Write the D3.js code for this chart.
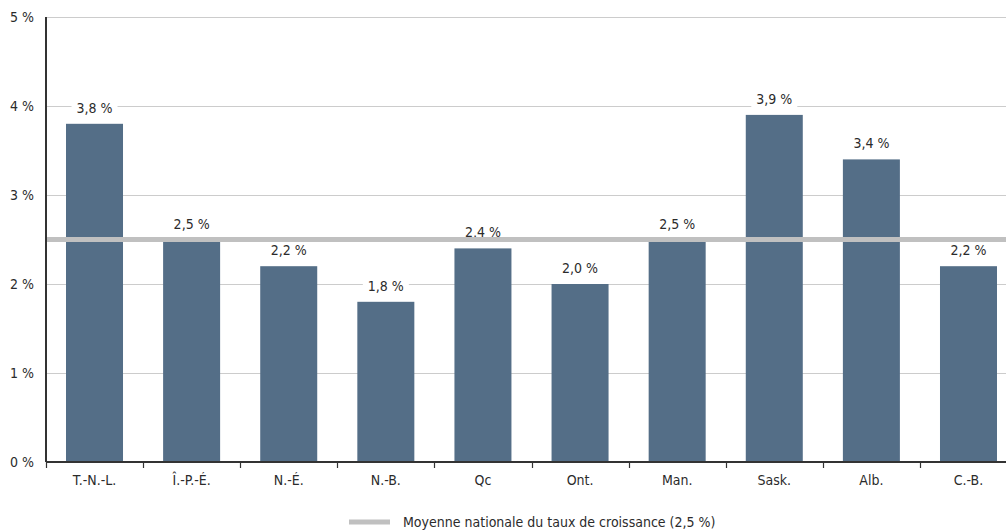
<!DOCTYPE html>
<html>
<head>
<meta charset="utf-8">
<script src="https://cdn.jsdelivr.net/npm/d3@7"></script>
<style>
  html, body { margin: 0; padding: 0; background: #fff; }
  svg { display: block; font-family: "DejaVu Sans Condensed", "Liberation Sans Narrow", "Roboto", sans-serif; }
</style>
</head>
<body>
<svg id="chart" width="1006" height="531"></svg>
<script>
// Provincial growth rates (%)
const provinces = ["T.-N.-L.", "Î.-P.-É.", "N.-É.", "N.-B.", "Qc", "Ont.", "Man.", "Sask.", "Alb.", "C.-B."];
const growth = [3.8, 2.5, 2.2, 1.8, 2.4, 2.0, 2.5, 3.9, 3.4, 2.2];
const nationalAverage = 2.5;
const yTicks = [0, 1, 2, 3, 4, 5];
const legendLabel = "Moyenne nationale du taux de croissance (2,5 %)";

const fmt = v => v.toFixed(1).replace(".", ",") + " %";

const svg = d3.select("#chart");
const W = 1006, H = 531;
const plotLeft = 46, plotTop = 17, baseY = 462;
const bandStep = 97.1;

// The category range runs slightly past the right edge of the page
const x = d3.scaleBand()
  .domain(provinces)
  .range([plotLeft, plotLeft + bandStep * provinces.length])
  .paddingInner(0.413)
  .paddingOuter(0.206);

const y = d3.scaleLinear()
  .domain([0, 5])
  .range([baseY, plotTop]);

const textColor = "#2b2b2b";
const fontSize = 14;

// Horizontal gridlines
svg.append("g")
  .selectAll("line")
  .data(yTicks.filter(d => d > 0))
  .join("line")
  .attr("x1", plotLeft)
  .attr("x2", W)
  .attr("y1", d => Math.round(y(d)) + 0.5)
  .attr("y2", d => Math.round(y(d)) + 0.5)
  .attr("stroke", "#cccccc")
  .attr("stroke-width", 1);

// Y tick labels
svg.append("g")
  .selectAll("text")
  .data(yTicks)
  .join("text")
  .attr("x", 34)
  .attr("y", d => y(d) + 5)
  .attr("text-anchor", "end")
  .attr("font-size", fontSize)
  .attr("fill", textColor)
  .text(d => d + " %");

// Bars
svg.append("g")
  .selectAll("rect")
  .data(growth)
  .join("rect")
  .attr("x", (d, i) => x(provinces[i]))
  .attr("width", x.bandwidth())
  .attr("y", d => y(d))
  .attr("height", d => y(0) - y(d))
  .attr("fill", "#546e87");

// Value labels with white backing
const labels = svg.append("g")
  .selectAll("g")
  .data(growth)
  .join("g")
  .attr("transform", (d, i) => `translate(${x(provinces[i]) + x.bandwidth() / 2},${y(d) - 11})`);
labels.append("rect")
  .attr("x", -23)
  .attr("y", -13)
  .attr("width", 46)
  .attr("height", 17)
  .attr("fill", "#fff");
labels.append("text")
  .attr("text-anchor", "middle")
  .attr("font-size", fontSize)
  .attr("fill", textColor)
  .text(d => fmt(d));

// National average line
svg.append("line")
  .attr("x1", plotLeft)
  .attr("x2", W)
  .attr("y1", y(nationalAverage))
  .attr("y2", y(nationalAverage))
  .attr("stroke", "#c0c0c0")
  .attr("stroke-width", 5);

// X axis with ticks at band boundaries
const boundaries = d3.range(provinces.length).map(i => plotLeft + i * x.step());
const xg = svg.append("g");
xg.selectAll("line.tick")
  .data(boundaries)
  .join("line")
  .attr("class", "tick")
  .attr("x1", d => Math.round(d) + 0.5)
  .attr("x2", d => Math.round(d) + 0.5)
  .attr("y1", y(0))
  .attr("y2", y(0) + 6)
  .attr("stroke", "#333")
  .attr("stroke-width", 1.2);
xg.append("line")
  .attr("x1", plotLeft)
  .attr("x2", W)
  .attr("y1", y(0))
  .attr("y2", y(0))
  .attr("stroke", "#333")
  .attr("stroke-width", 2);
xg.selectAll("text")
  .data(provinces)
  .join("text")
  .attr("x", d => x(d) + x.bandwidth() / 2)
  .attr("y", y(0) + 23)
  .attr("text-anchor", "middle")
  .attr("font-size", fontSize)
  .attr("fill", textColor)
  .text(d => d);

// Y axis line
svg.append("line")
  .attr("x1", plotLeft)
  .attr("x2", plotLeft)
  .attr("y1", y(5))
  .attr("y2", y(0))
  .attr("stroke", "#333")
  .attr("stroke-width", 2);

// Legend
const lg = svg.append("g").attr("transform", "translate(349,522)");
lg.append("line")
  .attr("x1", 0).attr("x2", 41)
  .attr("y1", 0).attr("y2", 0)
  .attr("stroke", "#c0c0c0")
  .attr("stroke-width", 5);
lg.append("text")
  .attr("x", 54)
  .attr("y", 5)
  .attr("font-size", fontSize)
  .attr("fill", textColor)
  .text(legendLabel);
</script>
</body>
</html>
